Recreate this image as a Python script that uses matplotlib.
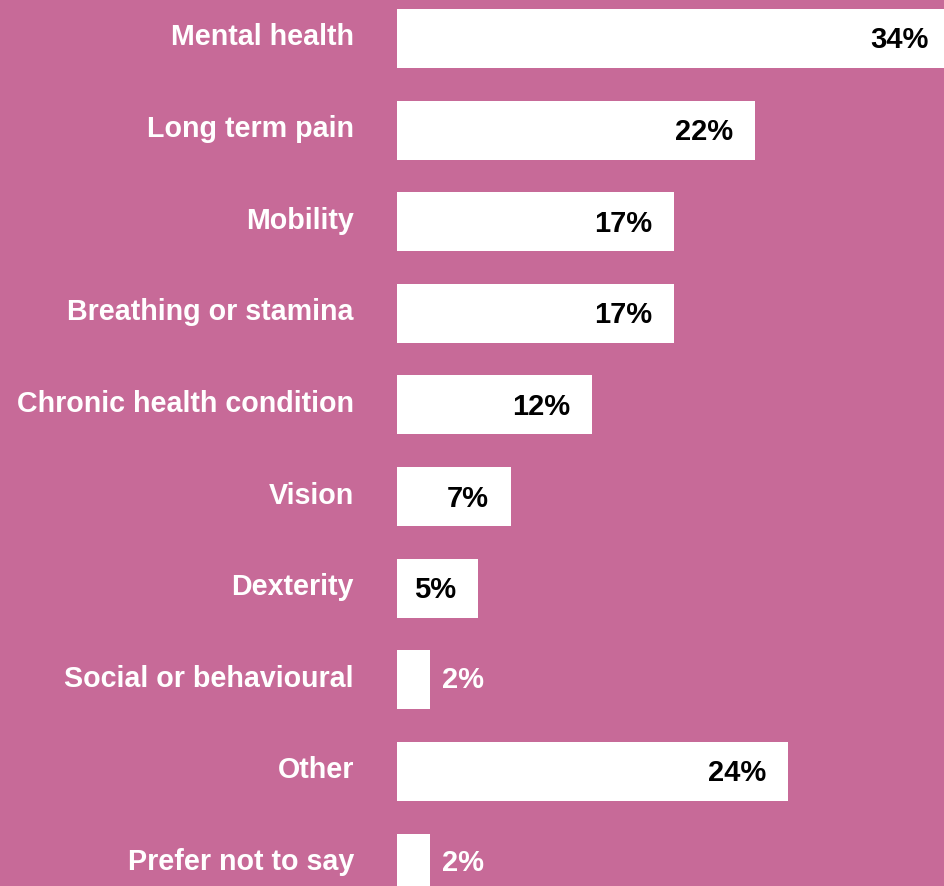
import matplotlib.pyplot as plt

# data
categories = ["Mental health", "Long term pain", "Mobility", "Breathing or stamina",
              "Chronic health condition", "Vision", "Dexterity",
              "Social or behavioural", "Other", "Prefer not to say"]
values = [34, 22, 17, 17, 12, 7, 5, 2, 24, 2]

bg = "#C76A98"
plt.rcParams['font.family'] = ['Liberation Sans', 'DejaVu Sans']

fig = plt.figure(figsize=(9.45, 8.86), dpi=100, facecolor=bg)
# bars start at pixel 397; the longest one runs just past the right edge
ax = fig.add_axes([397 / 945, 0, 548 / 945, 1])
ax.set_facecolor(bg)

pos = list(range(len(categories)))
ax.barh(pos, values, height=0.644, color="white", edgecolor="none")

ax.set_xlim(0, 33.65)
ax.set_ylim(9.25, -0.42)
ax.axis("off")

for p, cat, v in zip(pos, categories, values):
    ax.annotate(cat, xy=(0, p), xytext=(-43, 1), textcoords="offset pixels",
                ha="right", va="center", color="white", fontsize=20.6,
                fontweight="bold", annotation_clip=False)
    if v > 2:
        ax.annotate(f"{v}%", xy=(v, p), xytext=(-22, -2), textcoords="offset pixels",
                    ha="right", va="center", color="black", fontsize=21,
                    fontweight="bold", annotation_clip=False)
    else:
        ax.annotate(f"{v}%", xy=(v, p), xytext=(12, 0), textcoords="offset pixels",
                    ha="left", va="center", color="white", fontsize=21,
                    fontweight="bold", annotation_clip=False)

fig.savefig("out.png", dpi=100, facecolor=bg)
